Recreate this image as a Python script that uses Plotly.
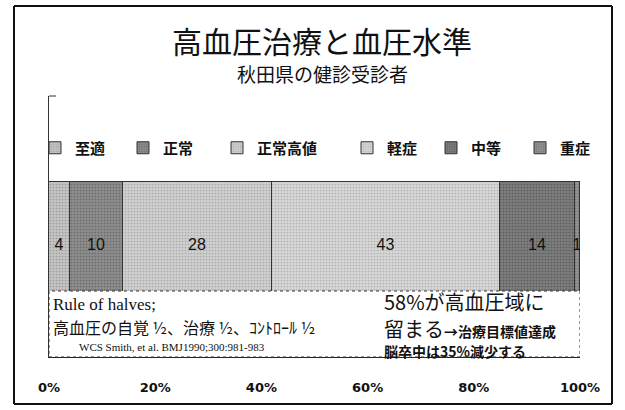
import plotly.graph_objects as go

categories = ["至適", "正常", "正常高値", "軽症", "中等", "重症"]
values = [4, 10, 28, 43, 14, 1]
colors = ["#c4c4c4", "#8c8c8c", "#cfcfcf", "#d6d6d6", "#7c7c7c", "#929292"]
dot_colors = ["#9a9a9a", "#6a6a6a", "#a8a8a8", "#b0b0b0", "#5a5a5a", "#6e6e6e"]
tick_vals = [0, 20, 40, 60, 80, 100]
tick_text = ["0%", "20%", "40%", "60%", "80%", "100%"]
legend_x_px = [55, 143, 237, 367, 451, 540]

W, H = 625, 410
L, R = 49, 580
T, B = 96, 357
pw, ph = R - L, B - T

def px_x(x):
    return (x - L) / pw

def px_y(y):
    return (B - y) / ph

CJK = "Noto Sans CJK JP"

fig = go.Figure()
for i, (cat, v, c, dc) in enumerate(zip(categories, values, colors, dot_colors)):
    lg = "legend" if i == 0 else f"legend{i+1}"
    fig.add_trace(go.Bar(
        y=[0.43], x=[v], name=cat, orientation="h", width=0.48,
        marker=dict(color=c, line=dict(color="#333333", width=1),
                    pattern=dict(shape=".", size=3, solidity=0.25, fgcolor=dc, bgcolor=c,
                                 fillmode="replace")),
        text=[str(v)], textposition="inside", insidetextanchor="middle",
        constraintext="none", textangle=0,
        textfont=dict(family="Liberation Sans, Arial", size=16, color="#111111"),
        legend=lg, hoverinfo="skip",
    ))

layout_legends = {}
for i, lx in enumerate(legend_x_px):
    key = "legend" if i == 0 else f"legend{i+1}"
    layout_legends[key] = dict(
        x=px_x(lx - 20), y=px_y(148), xanchor="left", yanchor="middle",
        orientation="h", bgcolor="rgba(0,0,0,0)", borderwidth=0,
        font=dict(family=CJK, size=15, color="#111111", weight="bold"), itemwidth=30,
    )

fig.update_layout(
    width=W, height=H,
    margin=dict(l=L, r=W - R, t=T, b=H - B, pad=0),
    paper_bgcolor="white", plot_bgcolor="white",
    barmode="stack", bargap=0,
    showlegend=True,
    **layout_legends,
    xaxis=dict(range=[0, 100], tickvals=tick_vals, ticktext=tick_text,
               ticks="inside", ticklen=4, tickcolor="#333333",
               showline=True, linecolor="#222222", linewidth=1,
               showgrid=False, zeroline=False,
               tickfont=dict(family="DejaVu Sans, Arial", size=13, color="#111111", weight="bold"),
               ticklabelstandoff=18),
    yaxis=dict(range=[0, 1], showticklabels=False, ticks="", showgrid=False,
               zeroline=False, showline=True, linecolor="#333333", linewidth=1),
)

# white text box over the lower part of the bar
fig.add_shape(type="rect", xref="x", yref="paper", x0=0, x1=100, y0=0, y1=px_y(291),
              fillcolor="white", line=dict(color="#333333", width=1, dash="dot"), layer="above")
# small top hook of the left axis
fig.add_shape(type="line", xref="paper", yref="paper", x0=0, x1=px_x(56), y0=1, y1=1,
              line=dict(color="#333333", width=1))
# outer frame (four sides)
fx0, fx1, fy0, fy1 = px_x(14), px_x(612), px_y(404), px_y(6)
for (a, b, c, d) in [(fx0, fx0, fy0, fy1), (fx1, fx1, fy0, fy1), (fx0, fx1, fy0, fy0), (fx0, fx1, fy1, fy1)]:
    fig.add_shape(type="line", xref="paper", yref="paper", x0=a, x1=b, y0=c, y1=d,
                  line=dict(color="#111111", width=2))

def ann(text, x, y, size, family=CJK, xanchor="left", weight="normal"):
    fig.add_annotation(text=text, xref="paper", yref="paper", x=px_x(x), y=px_y(y),
                       xanchor=xanchor, yanchor="middle", showarrow=False,
                       font=dict(family=family, size=size, color="#111111", weight=weight))

ann("高血圧治療と血圧水準", 322, 40, 30, xanchor="center")
ann("秋田県の健診受診者", 322, 74, 19, xanchor="center")

ann("Rule of halves;", 51, 304, 17, family="Liberation Serif, Times New Roman")
ann("高血圧の自覚 ½、治療 ½、ｺﾝﾄﾛｰﾙ ½", 51, 327, 16)
ann("WCS Smith, et al. BMJ1990;300:981-983", 77, 347, 11, family="Liberation Serif, Times New Roman")
ann("58%が高血圧域に", 382, 301, 20)
ann("留まる<span style='font-size:14px'><b>→治療目標値達成</b></span>", 382, 328, 20)
ann("<b>脳卒中は35%減少する</b>", 382, 351, 14)

fig.write_html("out.html", config={"displayModeBar": False},
               post_script="document.body.style.margin='0';document.body.style.padding='0';")
